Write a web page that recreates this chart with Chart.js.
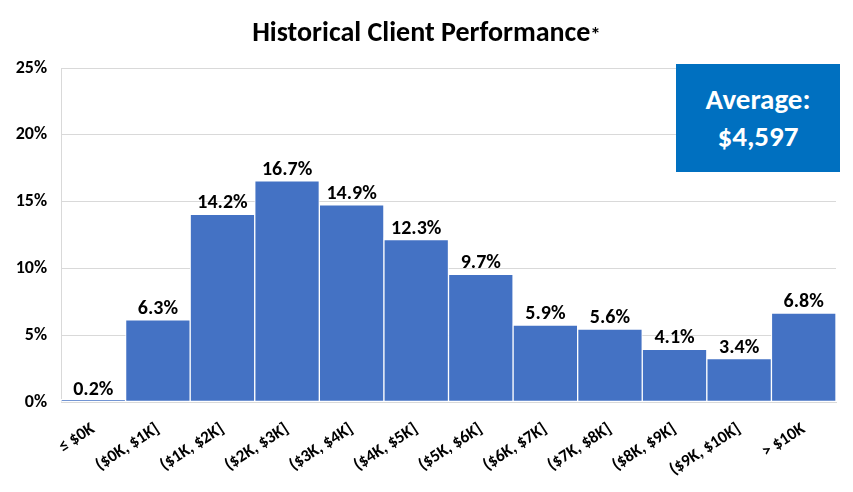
<!DOCTYPE html>
<html>
<head>
<meta charset="utf-8">
<script src="https://cdn.jsdelivr.net/npm/chart.js@4"></script>
<style>
    html, body { margin: 0; padding: 0; background: #fff; }
    #wrap { position: relative; width: 853px; height: 492px; font-family: Calibri, Carlito, "Open Sans", sans-serif; }
    #titre { position: absolute; left: 0; top: 18px; width: 853px; text-align: center; font-weight: bold; font-size: 28px; line-height: 28px; color: #000; }
    #titre span { font-size: 21px; }
    #moyenne { position: absolute; left: 676px; top: 64px; width: 164px; height: 108px; background: #0070C0; color: #fff;
        font-weight: bold; font-size: 29px; line-height: 37px; text-align: center; display: flex; align-items: center; justify-content: center; }
    canvas { position: absolute; left: 0; top: 0; }
</style>
</head>
<body>
<div id="wrap">
    <canvas id="histo" width="853" height="492"></canvas>
    <div id="titre">Historical Client Performance<span>*</span></div>
    <div id="moyenne"><div>Average:<br>$4,597</div></div>
</div>
<script>
const categories = ["≤ $0K", "($0K, $1K]", "($1K, $2K]", "($2K, $3K]", "($3K, $4K]", "($4K, $5K]",
    "($5K, $6K]", "($6K, $7K]", "($7K, $8K]", "($8K, $9K]", "($9K, $10K]", "> $10K"];
const pourcentages = [0.2, 6.3, 14.2, 16.7, 14.9, 12.3, 9.7, 5.9, 5.6, 4.1, 3.4, 6.8];
const ticksY = [0, 5, 10, 15, 20, 25];

const police = 'Calibri, Carlito, "Open Sans", sans-serif';

// --- etiquettes au dessus des barres ---
const etiquettes = {
    id: 'etiquettes',
    afterDatasetsDraw(chart) {
        const ctx = chart.ctx;
        const meta = chart.getDatasetMeta(0);
        ctx.save();
        ctx.font = 'bold 20px ' + police;
        ctx.fillStyle = '#000';
        ctx.textAlign = 'center';
        ctx.textBaseline = 'alphabetic';
        meta.data.forEach((bar, i) => {
            ctx.fillText(pourcentages[i].toFixed(1) + '%', bar.x, bar.y - 4);
        });
        ctx.restore();
    }
};

new Chart(document.getElementById('histo'), {
    type: 'bar',
    data: {
        labels: categories,
        datasets: [{
            data: pourcentages,
            backgroundColor: '#4472C4',
            borderColor: '#ffffff',
            borderWidth: { left: 1, right: 1, top: 3, bottom: 1 },
            borderSkipped: false,
            categoryPercentage: 1,
            barPercentage: 1
        }]
    },
    options: {
        responsive: false,
        animation: false,
        layout: { padding: { top: 68, right: 17, left: 0, bottom: 0 } },
        plugins: {
            legend: { display: false },
            tooltip: { enabled: false }
        },
        scales: {
            x: {
                afterFit(scale) { scale.height = 90; },
                grid: { display: false, drawTicks: false },
                border: { color: '#D9D9D9', width: 1 },
                ticks: {
                    color: '#000',
                    font: { family: police, size: 17, weight: 'bold' },
                    minRotation: 33,
                    maxRotation: 33,
                    padding: 17,
                    autoSkip: false
                }
            },
            y: {
                min: 0,
                max: 25,
                afterFit(scale) { scale.width = 61; },
                afterBuildTicks(scale) { scale.ticks = ticksY.map(v => ({ value: v })); },
                grid: { color: '#D9D9D9', drawTicks: false },
                border: { color: '#D9D9D9' },
                ticks: {
                    color: '#000',
                    padding: 14,
                    font: { family: police, size: 18, weight: 'bold' },
                    callback: v => v + '%'
                }
            }
        }
    },
    plugins: [etiquettes]
});
</script>
</body>
</html>
